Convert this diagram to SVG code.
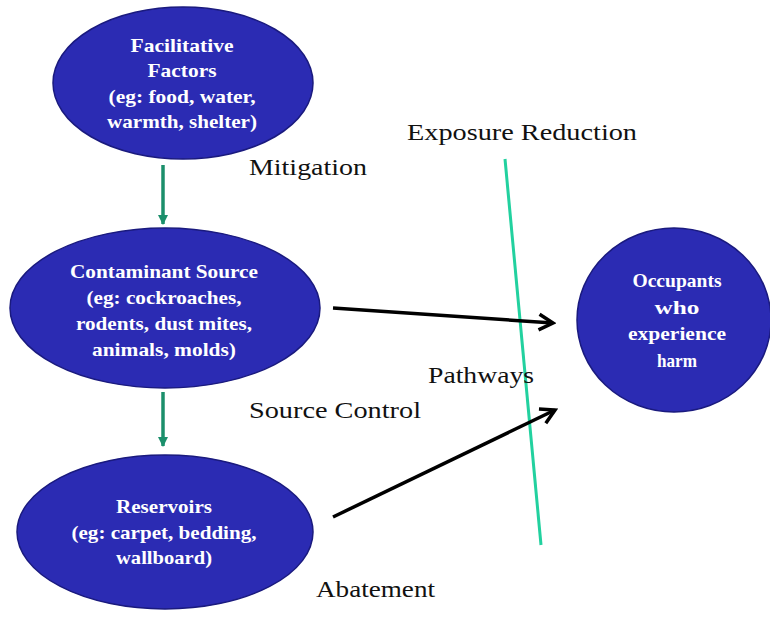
<svg xmlns="http://www.w3.org/2000/svg" width="770" height="618" viewBox="0 0 770 618">
<defs>
<style>
.node{fill:#2b2bb3;stroke:#1a1a7e;stroke-width:1.5}
.g{stroke:#1b8f6b;stroke-width:3.5;fill:none}
.b{stroke:#000;stroke-width:3.5;fill:none}
</style>
<marker id="ga" viewBox="0 0 10 10" refX="9" refY="5" markerWidth="3" markerHeight="3" orient="auto"><path d="M0,0 L10,5 L0,10 z" fill="#1b8f6b"/></marker>
<marker id="ba" viewBox="0 0 12 12" refX="10" refY="6" markerWidth="6" markerHeight="6" orient="auto"><path d="M2,1.5 L10,6 L2,10.5" fill="none" stroke="#000" stroke-width="2"/></marker>
</defs>
<rect width="770" height="618" fill="#fff"/>
<g id="connectors">
<line class="g" x1="163" y1="165" x2="163" y2="224" marker-end="url(#ga)"/>
<line class="g" x1="163" y1="392" x2="163" y2="446" marker-end="url(#ga)"/>
<line x1="505" y1="159" x2="541" y2="545" stroke="#22d19f" stroke-width="3"/>
<line class="b" x1="333" y1="308" x2="553" y2="323" marker-end="url(#ba)"/>
<line class="b" x1="333" y1="517" x2="555" y2="410" marker-end="url(#ba)"/>
</g>
<g id="facilitative">
<ellipse class="node" cx="183" cy="83" rx="130" ry="76"/>
<g font-family="Liberation Serif" font-size="19" font-weight="bold" fill="#fff" text-anchor="middle">
<text x="182" y="52" textLength="103" lengthAdjust="spacingAndGlyphs">Facilitative</text>
<text x="182" y="77" textLength="69" lengthAdjust="spacingAndGlyphs">Factors</text>
<text x="182" y="103" textLength="147" lengthAdjust="spacingAndGlyphs">(eg: food, water,</text>
<text x="182" y="128" textLength="150" lengthAdjust="spacingAndGlyphs">warmth, shelter)</text>
</g>
</g>
<g id="source">
<ellipse class="node" cx="165" cy="308" rx="155" ry="80"/>
<g font-family="Liberation Serif" font-size="19" font-weight="bold" fill="#fff" text-anchor="middle">
<text x="164" y="278" textLength="188" lengthAdjust="spacingAndGlyphs">Contaminant Source</text>
<text x="164" y="304" textLength="155" lengthAdjust="spacingAndGlyphs">(eg: cockroaches,</text>
<text x="164" y="330" textLength="176" lengthAdjust="spacingAndGlyphs">rodents, dust mites,</text>
<text x="164" y="356" textLength="144" lengthAdjust="spacingAndGlyphs">animals, molds)</text>
</g>
</g>
<g id="reservoirs">
<ellipse class="node" cx="165" cy="532" rx="148" ry="77"/>
<g font-family="Liberation Serif" font-size="19" font-weight="bold" fill="#fff" text-anchor="middle">
<text x="164" y="513" textLength="96" lengthAdjust="spacingAndGlyphs">Reservoirs</text>
<text x="164" y="539" textLength="185" lengthAdjust="spacingAndGlyphs">(eg: carpet, bedding,</text>
<text x="164" y="564" textLength="96" lengthAdjust="spacingAndGlyphs">wallboard)</text>
</g>
</g>
<g id="occupants">
<ellipse class="node" cx="674" cy="320" rx="97" ry="92"/>
<g font-family="Liberation Serif" font-size="19" font-weight="bold" fill="#fff" text-anchor="middle">
<text x="677" y="287" textLength="89" lengthAdjust="spacingAndGlyphs">Occupants</text>
<text x="677" y="314" textLength="45" lengthAdjust="spacingAndGlyphs">who</text>
<text x="677" y="340" textLength="98" lengthAdjust="spacingAndGlyphs">experience</text>
<text x="677" y="367" textLength="40" lengthAdjust="spacingAndGlyphs">harm</text>
</g>
</g>
<g id="labels" font-family="Liberation Serif" font-size="24" fill="#111">
<text x="407" y="140" textLength="230" lengthAdjust="spacingAndGlyphs">Exposure Reduction</text>
<text x="249" y="175" textLength="118" lengthAdjust="spacingAndGlyphs">Mitigation</text>
<text x="428" y="383" textLength="106" lengthAdjust="spacingAndGlyphs">Pathways</text>
<text x="249" y="418" textLength="172" lengthAdjust="spacingAndGlyphs">Source Control</text>
<text x="316" y="597" textLength="119" lengthAdjust="spacingAndGlyphs">Abatement</text>
</g>
</svg>
